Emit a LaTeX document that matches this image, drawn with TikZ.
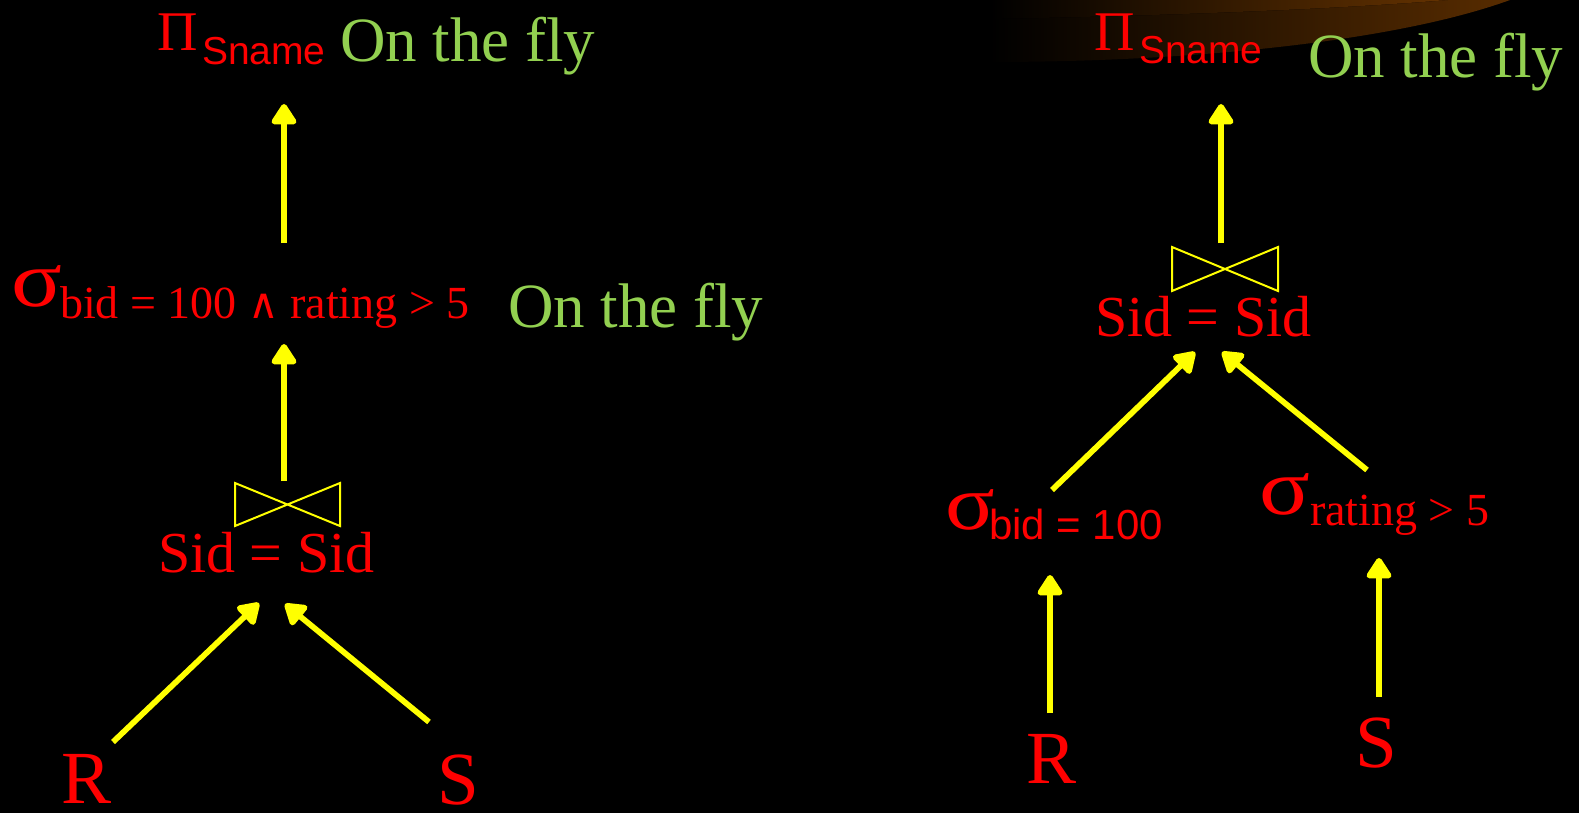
\documentclass[tikz,border=0pt]{standalone}
\usepackage{fontspec}
\usepackage{graphicx}
\setmainfont{Liberation Serif}
\setsansfont{Liberation Sans}
\newfontfamily\symfont{DejaVu Sans}
\usetikzlibrary{arrows.meta}
\definecolor{lblred}{RGB}{255,0,0}
\definecolor{flygreen}{RGB}{146,208,80}
\definecolor{arrowyellow}{RGB}{255,255,0}
\definecolor{glowA}{RGB}{88,44,0}
\definecolor{glowB}{RGB}{100,50,0}
\newcommand\fsz[1]{\fontsize{#1}{#1}\selectfont}
\newcommand\wsig{\scalebox{1.18}[1]{σ}}
\begin{document}
\begin{tikzpicture}[x=1pt,y=-1pt,
  txt/.style={inner sep=0pt, outer sep=0pt, anchor=base west},
  rel/.style={txt, text=lblred},
  fly/.style={txt, text=flygreen, font={\fsz{63}}},
  flow/.style={draw=arrowyellow, line width=5.7pt, -{Triangle[length=23pt,width=28pt,round]}},
  bowtie/.style={draw=arrowyellow, line width=2pt, line join=miter}]
\fill[black] (0,0) rectangle (1579,813);
\useasboundingbox (0,0) rectangle (1579,813);
% glow in the top right
\fill[left color=black, right color=glowA] (990,0) -- (990,62) .. controls (1200,62) and (1400,40) .. (1510,0) -- cycle;
\fill[left color=black, right color=glowB] (990,0) -- (990,19) .. controls (1200,15) and (1350,8) .. (1448,0) -- cycle;

% ---------- left tree ----------
\node[rel, font={\fsz{56}}] (piL) at (157,51) {Π};
\node[rel, font={\sffamily\fsz{39}}] (snL) at (202,65) {Sname};
\node[fly] (otf1) at (340,62) {On the fly};
\node[rel, font={\fsz{80}}] (sgL) at (11,306) {\wsig};
\node[rel, font={\fsz{46}}] (subL) at (60,318) {bid = 100 {\symfont\fsz{42}∧} rating > 5};
\node[fly] (otf2) at (508,327) {On the fly};
\node[rel, font={\fsz{58}}] (sidL) at (158,572) {Sid = Sid};
\node[rel, font={\fsz{75}}] (rL) at (61,803) {R};
\node[rel, font={\fsz{75}}] (sL) at (437,804) {S};

\coordinate (a1s) at (284,243); \coordinate (a1e) at (284,104);
\coordinate (a2s) at (284,481); \coordinate (a2e) at (284,344);
\coordinate (a3s) at (113,742); \coordinate (a3e) at (259,603);
\coordinate (a4s) at (429,722); \coordinate (a4e) at (285,604);
\draw[flow] (a1s) -- (a1e);
\draw[flow] (a2s) -- (a2e);
\draw[flow] (a3s) -- (a3e);
\draw[flow] (a4s) -- (a4e);
\draw[bowtie] (235,483) -- (340,526) -- (340,483) -- (235,526) -- cycle;

% ---------- right tree ----------
\node[rel, font={\fsz{56}}] (piR) at (1094,51) {Π};
\node[rel, font={\sffamily\fsz{39}}] (snR) at (1139,64) {Sname};
\node[fly] (otf3) at (1308,78) {On the fly};
\node[rel, font={\fsz{58}}] (sidR) at (1095,336) {Sid = Sid};
\node[rel, font={\fsz{78}}] (sgB) at (945,529) {\wsig};
\node[rel, font={\sffamily\fsz{42}}] (subB) at (989,539) {bid = 100};
\node[rel, font={\fsz{80}}] (sgR) at (1259,514) {\wsig};
\node[rel, font={\fsz{46}}] (subR) at (1310,525) {rating > 5};
\node[rel, font={\fsz{75}}] (rR) at (1026,783) {R};
\node[rel, font={\fsz{75}}] (sR) at (1355,767) {S};

\coordinate (a5s) at (1221,243); \coordinate (a5e) at (1221,104);
\coordinate (a6s) at (1052,490); \coordinate (a6e) at (1195,352);
\coordinate (a7s) at (1367,470); \coordinate (a7e) at (1222,352);
\coordinate (a8s) at (1050,713); \coordinate (a8e) at (1050,575);
\coordinate (a9s) at (1379,697); \coordinate (a9e) at (1379,558);
\draw[flow] (a5s) -- (a5e);
\draw[flow] (a6s) -- (a6e);
\draw[flow] (a7s) -- (a7e);
\draw[flow] (a8s) -- (a8e);
\draw[flow] (a9s) -- (a9e);
\draw[bowtie] (1172,247) -- (1278,291) -- (1278,247) -- (1172,291) -- cycle;
\end{tikzpicture}
\end{document}
